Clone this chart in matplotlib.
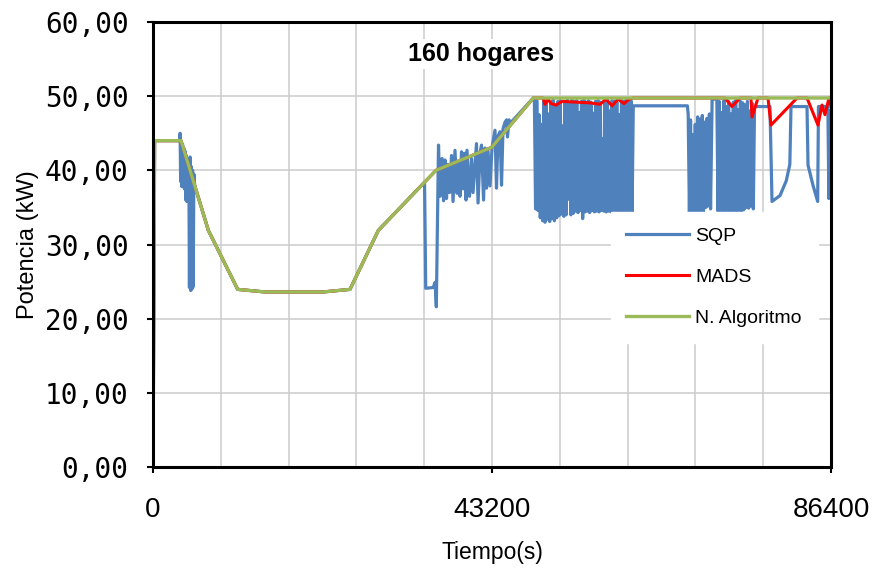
import numpy as np
import matplotlib
matplotlib.use("Agg")
import matplotlib.pyplot as plt
from matplotlib.ticker import MultipleLocator

plt.rcParams["path.simplify"] = False

# time axis (s) and power (kW)
t_alg = [0, 200, 3570, 7050, 10790, 14270, 21660, 25100, 28710, 36060, 43160, 48470, 86400]
p_alg = [0, 44.0, 44.0, 31.9, 23.95, 23.6, 23.6, 23.95, 31.9, 40.0, 43.1, 49.75, 49.75]

t_mads = [0, 200, 3570, 7050, 10790, 14270, 21660, 25100, 28710, 36060, 43160, 48470,
          49700, 49950, 50330, 50720, 51350, 52120, 53780, 55690, 56960, 57730, 58490,
          59260, 60020, 60660, 61170, 72890, 73780, 74800, 76200, 76330, 77095, 78370,
          78750, 82065, 83340, 84740, 85250, 85630, 86140, 86400]
p_mads = [0, 44.0, 44.0, 31.9, 23.95, 23.6, 23.6, 23.95, 31.9, 40.0, 43.1, 49.75,
          49.75, 48.9, 49.6, 49.0, 48.8, 49.3, 49.2, 49.1, 48.9, 49.6, 48.7,
          49.6, 49.0, 49.6, 49.75, 49.75, 48.6, 49.75, 49.75, 47.2, 49.75, 49.75,
          46.1, 49.75, 49.75, 46.1, 48.8, 47.5, 49.75, 48.6]

# SQP: smooth parts + oscillating bursts
t_sqp_a = [0, 200, 3440]
p_sqp_a = [0, 44.0, 44.0]

# burst around t = 3500..5300
t_sqp_b = [3450, 3520, 3600, 3680, 3760, 3840, 3920, 4000, 4080, 4160, 4240, 4320,
           4400, 4480, 4560, 4640, 4720, 4800, 4880, 4960, 5040, 5120, 5200, 5300]
p_sqp_b = [45.0, 38.5, 43.8, 37.8, 43.5, 38.9, 43.0, 37.5, 42.6, 36.0, 42.0, 35.8,
           41.5, 37.2, 41.0, 24.2, 41.8, 23.8, 40.5, 24.0, 40.0, 24.3, 39.5, 38.0]

t_sqp_c = [7050, 10790, 14270, 21660, 25100, 28710, 34600, 34750, 35700, 35950, 36100]
p_sqp_c = [31.9, 23.95, 23.6, 23.6, 23.95, 31.9, 38.4, 24.1, 24.2, 24.9, 21.6]

# burst around t = 36400..45500
t_sqp_d = [36380, 36570, 36830, 37020, 37210, 37400, 37590, 37780, 38040, 38230,
           38480, 38740, 38930, 39120, 39310, 39500, 39690, 39890, 40010, 40330,
           40590, 40780, 41220, 41420, 41670, 41860, 42120, 42310, 42500, 42690,
           42940, 43200, 43580, 43770, 43960, 44220, 44410, 44600, 44860, 45050,
           45170, 45370, 45560]
p_sqp_d = [43.4, 36.5, 41.6, 35.9, 41.4, 36.2, 40.8, 37.0, 42.0, 35.8,
           42.7, 36.9, 41.0, 36.5, 42.5, 37.5, 42.3, 36.0, 42.7, 36.5,
           41.6, 37.0, 43.6, 35.6, 42.3, 43.4, 36.0, 43.0, 37.6, 42.6,
           37.9, 43.1, 45.4, 37.6, 44.6, 45.2, 38.0, 45.6, 46.5, 46.8,
           44.5, 46.8, 46.4]

# dense burst t = 48600..61200, one sample every 150 s
p_burst_1 = [49.3, 34.8, 49.4, 34.6, 47.5, 33.6, 46.2, 33.2, 49.3, 33.0,
             49.4, 33.4, 47.6, 33.1, 49.2, 33.5, 49.5, 33.2, 48.8, 33.6,
             49.3, 33.9, 49.4, 34.1, 46.0, 33.8, 49.2, 34.0, 49.5, 36.1,
             49.0, 34.0, 49.5, 34.2, 49.3, 34.5, 49.4, 34.3, 47.8, 34.6,
             49.3, 33.5, 49.5, 34.4, 49.2, 34.5, 49.4, 34.3, 49.2, 34.6,
             47.7, 34.4, 49.3, 34.5, 49.4, 34.4, 49.2, 34.6, 44.3, 34.5,
             49.3, 34.4, 49.5, 34.5, 48.0, 34.4, 49.4, 34.6, 49.3, 34.4,
             49.2, 34.5, 47.5, 34.4, 49.4, 34.5, 49.3, 34.4, 49.5, 34.6,
             49.2, 34.5, 49.4, 34.4, 48.7]

# dense burst t = 68200..71050
p_burst_2 = [47.5, 34.4, 46.8, 34.3, 44.8, 34.4, 46.2, 34.5, 47.2, 34.3,
             46.9, 34.4, 47.4, 34.5, 46.5, 35.0, 47.0, 35.2, 47.6, 34.8]

# dense burst t = 72000..76650
p_burst_3 = [34.5, 49.3, 34.4, 47.8, 34.5, 49.4, 34.4, 48.6, 34.6, 49.3,
             34.4, 47.6, 34.5, 49.2, 34.4, 49.4, 34.5, 48.2, 34.6, 49.3,
             34.4, 49.1, 34.7, 48.8, 35.0, 49.3, 34.9, 48.0, 35.2, 49.0,
             34.8, 48.6]

t_sqp_e = [76750, 78620, 78880, 79900, 80700, 81150, 81300, 83340, 83470, 84100,
           84700, 84800, 86000, 86130, 86250, 86400]
p_sqp_e = [48.6, 48.6, 35.8, 36.6, 38.6, 40.8, 48.6, 48.6, 40.7, 38.0,
           35.8, 48.6, 48.6, 36.2, 48.0, 36.5]

step = 150
t_burst_1 = 48600 + step * np.arange(len(p_burst_1))
t_burst_2 = 68200 + step * np.arange(len(p_burst_2))
t_burst_3 = 72000 + step * np.arange(len(p_burst_3))

t_sqp = np.concatenate([t_sqp_a, t_sqp_b, t_sqp_c, t_sqp_d, [48470], t_burst_1,
                        [61300, 68100], t_burst_2, [71250, 71850], t_burst_3, t_sqp_e])
p_sqp = np.concatenate([p_sqp_a, p_sqp_b, p_sqp_c, p_sqp_d, [49.75], p_burst_1,
                        [48.7, 48.7], p_burst_2, [49.6, 49.6], p_burst_3, p_sqp_e])

y_ticks = [0, 10, 20, 30, 40, 50, 60]
x_ticks = [0, 43200, 86400]

fig = plt.figure(figsize=(8.72, 5.70), dpi=100)
ax = fig.add_axes([0.1755, 0.1807, 0.7775, 0.7807])

ax.plot(t_sqp, p_sqp, color="#4F81BD", lw=2.3, label="SQP")
ax.plot(t_mads, p_mads, color="#FF0000", lw=2.2, label="MADS")
ax.plot(t_alg, p_alg, color="#9BBB59", lw=2.4, label="N. Algoritmo")

ax.set_xlim(0, 86400)
ax.set_ylim(0, 60)
ax.set_xticks(x_ticks)
ax.set_xticklabels([str(v) for v in x_ticks], fontsize=20, family="Liberation Sans")
ax.xaxis.set_minor_locator(MultipleLocator(8640))
ax.set_yticks(y_ticks)
ax.set_yticklabels([f"{v:.2f}".replace(".", ",") for v in y_ticks],
                   fontsize=20, family="DejaVu Sans Mono")

ax.set_axisbelow(True)
ax.grid(which="both", axis="x", color="#cccccc", lw=1.1)
ax.grid(which="major", axis="y", color="#cccccc", lw=1.1)
ax.tick_params(which="minor", length=0)
ax.tick_params(axis="y", direction="out", length=4.5, width=1.5, pad=13)
ax.tick_params(axis="x", direction="out", length=4.5, width=1.5, pad=17)
for s in ax.spines.values():
    s.set_linewidth(2.2)
    s.set_color("black")

ax.set_xlabel("Tiempo(s)", fontsize=16.5, family="Liberation Sans", labelpad=13)
ax.set_ylabel("Potencia (kW)", fontsize=17, family="Liberation Sans", labelpad=4)

ax.text(0.484, 0.928, "160 hogares", transform=ax.transAxes, ha="center", va="center",
        fontsize=18, fontweight="bold", family="Liberation Sans",
        bbox=dict(facecolor="white", edgecolor="none", pad=2))

leg = ax.legend(loc="upper left", bbox_to_anchor=(0.661, 0.595), frameon=True,
                fancybox=False, edgecolor="white", facecolor="white", framealpha=1,
                prop={"family": "Liberation Sans", "size": 14},
                handlelength=3.2, handletextpad=0.35, labelspacing=1.2, borderpad=0.8)

fig.savefig("out.png", dpi=100)
